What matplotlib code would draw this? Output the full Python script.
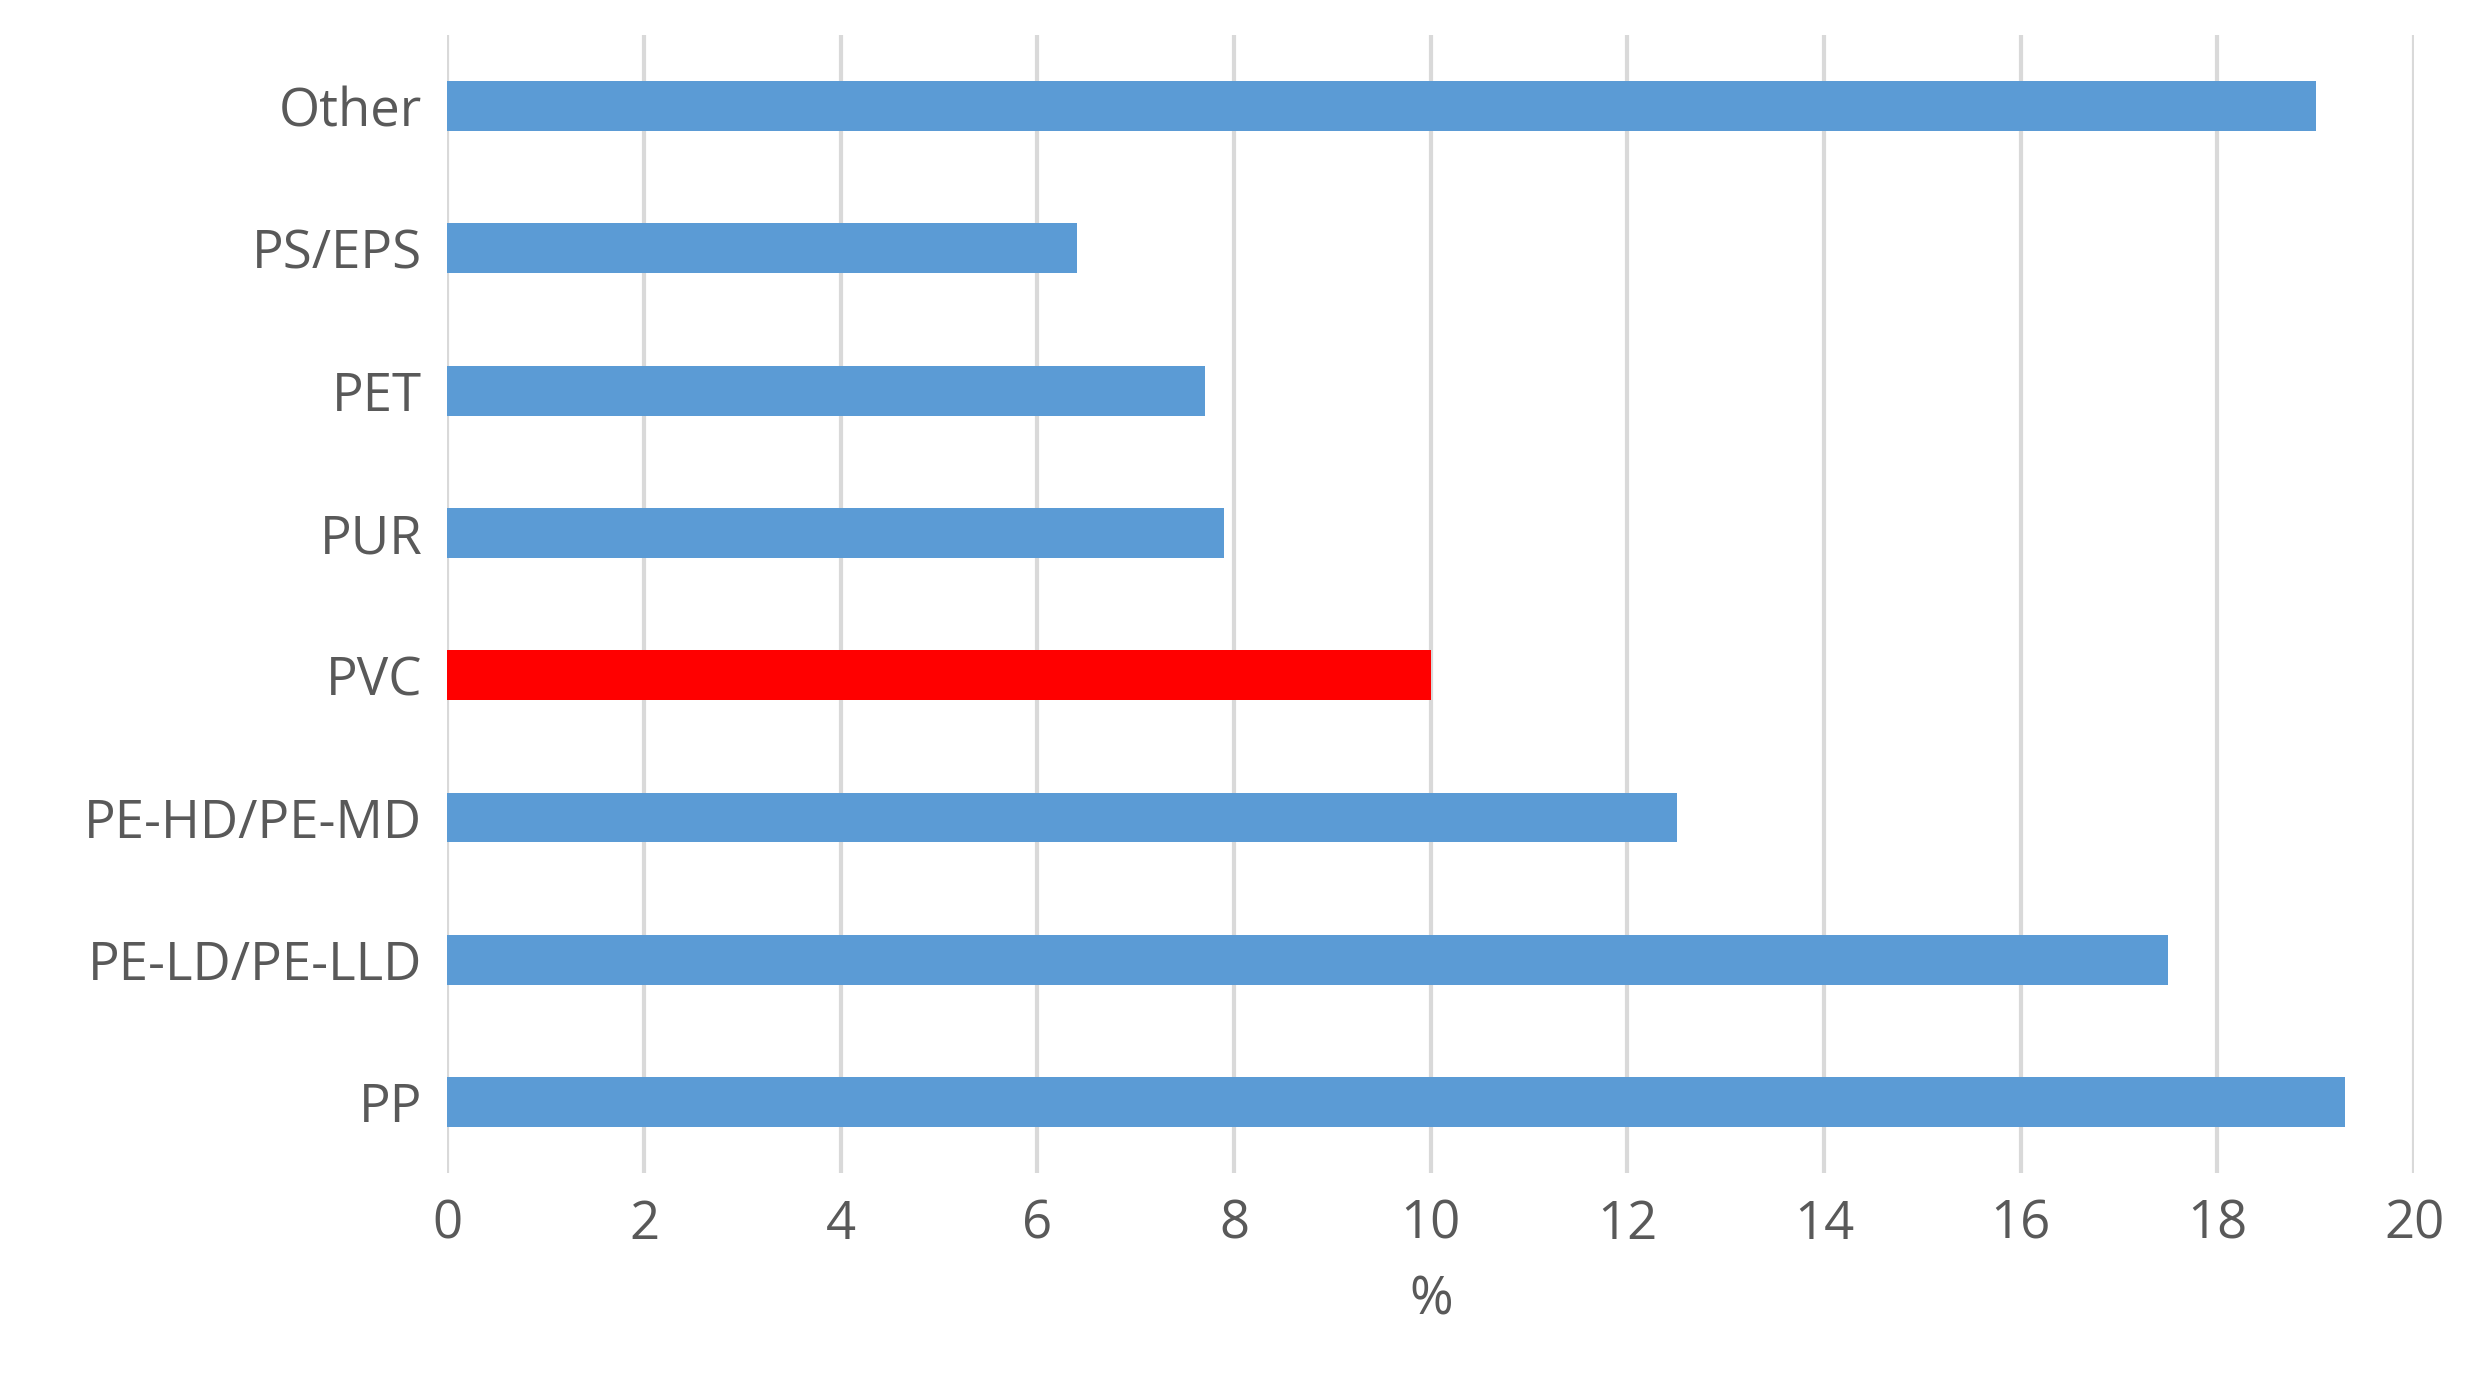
import matplotlib
matplotlib.use("Agg")
import matplotlib.pyplot as plt

categories = ["PP", "PE-LD/PE-LLD", "PE-HD/PE-MD", "PVC", "PUR", "PET", "PS/EPS", "Other"]
values = [19.3, 17.5, 12.5, 10.0, 7.9, 7.7, 6.4, 19.0]
colors = ["#5B9BD5"] * 8
colors[3] = "#FF0000"

TXT = "#595959"
plt.rcParams["font.family"] = ["Open Sans", "DejaVu Sans"]

fig = plt.figure(figsize=(24.71, 13.95), dpi=100)
ax = fig.add_axes([0.181, 0.159, 0.796, 0.816])

ax.barh(range(len(categories)), values, height=0.35, color=colors, zorder=3)
ax.set_xlim(0, 20)
ax.set_ylim(-0.5, len(categories) - 0.5)
ax.set_xticks(range(0, 21, 2))
ax.set_yticks(range(len(categories)))
ax.set_yticklabels(categories)
ax.grid(axis="x", color="#D9D9D9", lw=3, zorder=0)
for s in ax.spines.values():
    s.set_visible(False)
ax.tick_params(length=0, labelsize=38, colors=TXT, pad=18)
ax.set_xlabel("%", fontsize=38, color=TXT, labelpad=16)

fig.savefig("out.png", dpi=100)
